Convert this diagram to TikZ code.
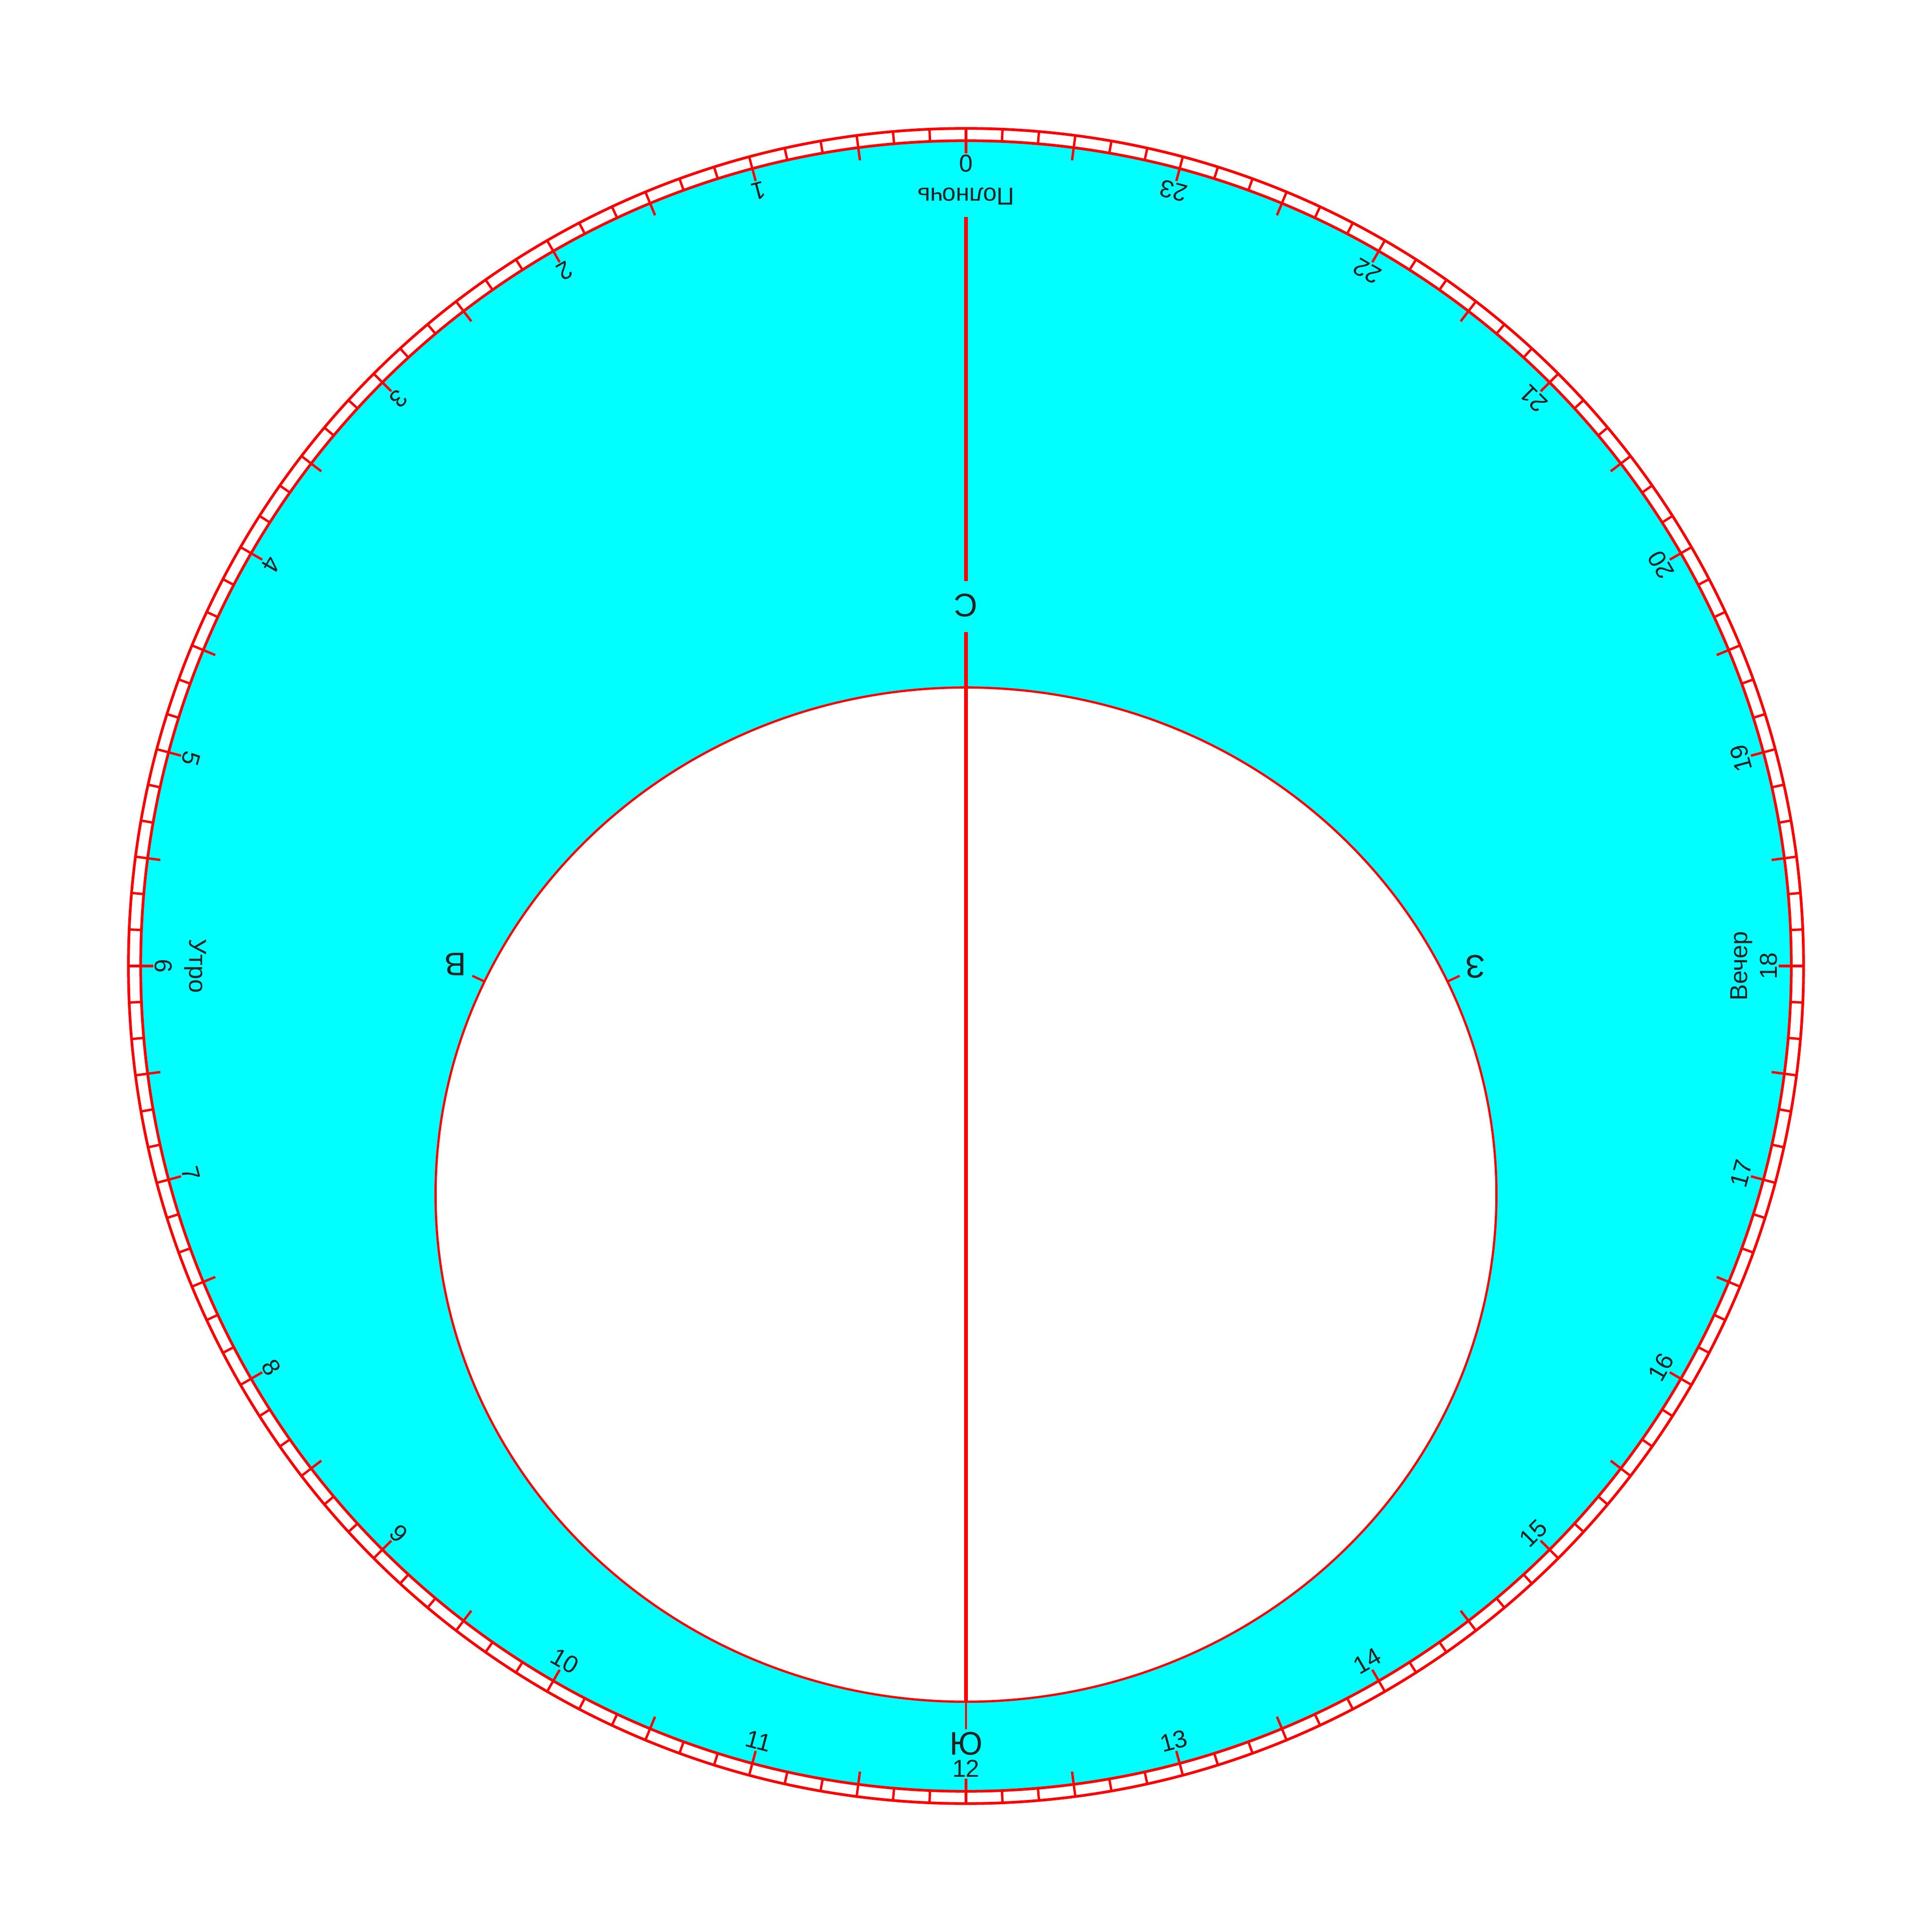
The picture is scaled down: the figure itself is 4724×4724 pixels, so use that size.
\documentclass[tikz,border=0pt]{standalone}
\usepackage{fontspec}
\setmainfont{Liberation Sans}
\definecolor{cy}{RGB}{0,255,255}
\definecolor{rd}{RGB}{255,0,0}
\definecolor{tx}{RGB}{34,34,34}
\begin{document}
\begin{tikzpicture}[x=0.0042337cm,y=0.0042337cm,
  hourlbl/.style={font=\fontsize{7.2}{8}\selectfont, text=tx, inner sep=0pt},
  dirlbl/.style={font=\fontsize{9.6}{11}\selectfont, text=tx, inner sep=0pt},
  ringline/.style={draw=rd, line width=0.8pt},
  tickline/.style={draw=rd, line width=0.7pt},
  axisline/.style={draw=rd, line width=1.2pt},
  thinline/.style={draw=rd, line width=0.65pt}]
\useasboundingbox (-2362,-2362) rectangle (2362,2362);
% cyan zone
\fill[cy, even odd rule] (0,0) circle (2018) (0,-559) ellipse (1297 and 1240);
% outer scale ring
\draw[ringline] (0,0) circle (2048);
\draw[ringline] (0,0) circle (2018);
\foreach \k in {0,...,143} {
  \pgfmathsetmacro\a{90+2.5*\k}
  \pgfmathtruncatemacro\m{mod(\k,3)}
  \ifnum\m=0
    \draw[tickline] (\a:1987) -- (\a:2048);
  \else
    \draw[tickline] (\a:2018) -- (\a:2048);
  \fi
}
% hour labels
\foreach \h in {0,...,23} {
  \pgfmathsetmacro\a{90+15*\h}
  \pgfmathsetmacro\r{180+15*\h}
  \node[hourlbl, rotate=\r] (h\h) at (\a:1962) {\h};
}
\node[hourlbl, rotate=180] (pol) at (90:1882) {Полночь};
\node[hourlbl, rotate=270] (utro) at (180:1884) {Утро};
\node[hourlbl, rotate=90] (vech) at (0:1896) {Вечер};
% inner boundary
\draw[thinline] (0,-559) ellipse (1297 and 1240);
% meridian
\coordinate (ltop) at (0,1832);
\coordinate (lgapa) at (0,941);
\coordinate (lgapb) at (0,816);
\coordinate (ebot) at (0,-1799);
\coordinate (stick) at (0,-1866);
\draw[axisline] (ltop) -- (lgapa);
\draw[axisline] (lgapb) -- (ebot);
\draw[thinline] (ebot) -- (stick);
\node[dirlbl, rotate=180] (N) at (0,882) {С};
\node[dirlbl] (S) at (0,-1901) {Ю};
% east / west
\coordinate (ep) at (-1177,-38);
\coordinate (et) at (-1207,-24);
\coordinate (wp) at (1177,-38);
\coordinate (wt) at (1207,-24);
\draw[thinline] (ep) -- (et);
\draw[thinline] (wp) -- (wt);
\node[dirlbl, rotate=180] (E) at (-1249,4) {В};
\node[dirlbl, rotate=180] (W) at (1245,-1) {З};
\end{tikzpicture}
\end{document}
